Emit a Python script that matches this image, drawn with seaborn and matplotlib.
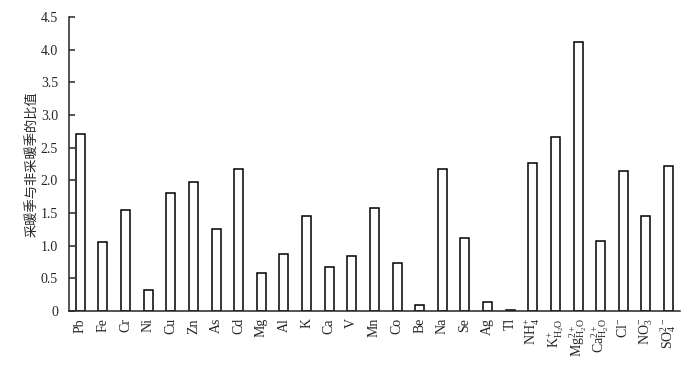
import matplotlib
matplotlib.use('Agg')
import matplotlib.pyplot as plt
import seaborn as sns
import pandas as pd
from matplotlib.ticker import FuncFormatter, MultipleLocator

# Data
labels = ['Pb', 'Fe', 'Cr', 'Ni', 'Cu', 'Zn', 'As', 'Cd', 'Mg', 'Al', 'K', 'Ca', 'V', 'Mn',
          'Co', 'Be', 'Na', 'Se', 'Ag', 'Tl',
          r'$\mathrm{NH_4^{+}}$', r'$\mathrm{K^{+}_{H_2O}}$', r'$\mathrm{Mg^{2+}_{H_2O}}$',
          r'$\mathrm{Ca^{2+}_{H_2O}}$', r'$\mathrm{Cl^{-}}$', r'$\mathrm{NO_3^{-}}$',
          r'$\mathrm{SO_4^{2-}}$']
ratios = [2.71, 1.06, 1.54, 0.33, 1.81, 1.97, 1.26, 2.17, 0.59, 0.87, 1.45, 0.67, 0.84, 1.57,
          0.73, 0.10, 2.18, 1.12, 0.14, 0.02,
          2.27, 2.67, 4.11, 1.08, 2.14, 1.45, 2.22]
ylabel = '采暖季与非采暖季的比值'

df = pd.DataFrame({'label': labels, 'ratio': ratios})

sns.set_style('ticks')
plt.rcParams['font.family'] = ['Liberation Serif', 'Noto Sans CJK SC']
plt.rcParams['mathtext.fontset'] = 'custom'
plt.rcParams['mathtext.rm'] = 'Liberation Serif'
plt.rcParams['mathtext.it'] = 'Liberation Serif:italic'

fig = plt.figure(figsize=(6.93, 3.78), dpi=100)
ax = fig.add_axes([0.0996, 0.177, 0.8814, 0.778])

sns.barplot(data=df, x='label', y='ratio', color='white', edgecolor='black',
            linewidth=1.1, width=0.4, saturation=1, ax=ax)

ax.set_xlim(-0.5, len(labels) - 0.5)
ax.set_ylim(0, 4.5)
ax.yaxis.set_major_locator(MultipleLocator(0.5))
ax.yaxis.set_major_formatter(FuncFormatter(lambda v, p: '0' if abs(v) < 1e-9 else f'{v:.1f}'))
ax.tick_params(axis='y', direction='in', length=4, width=1.1, labelsize=10, pad=8)
ax.tick_params(axis='x', length=0, labelsize=10, pad=5, rotation=90)
ax.set_xlabel('')
ax.set_ylabel(ylabel, fontsize=9.5, family=['Noto Sans CJK SC'], labelpad=1)
for s in ['top', 'right']:
    ax.spines[s].set_visible(False)
for s in ['left', 'bottom']:
    ax.spines[s].set_linewidth(1.1)

fig.savefig('out.png', dpi=100)
